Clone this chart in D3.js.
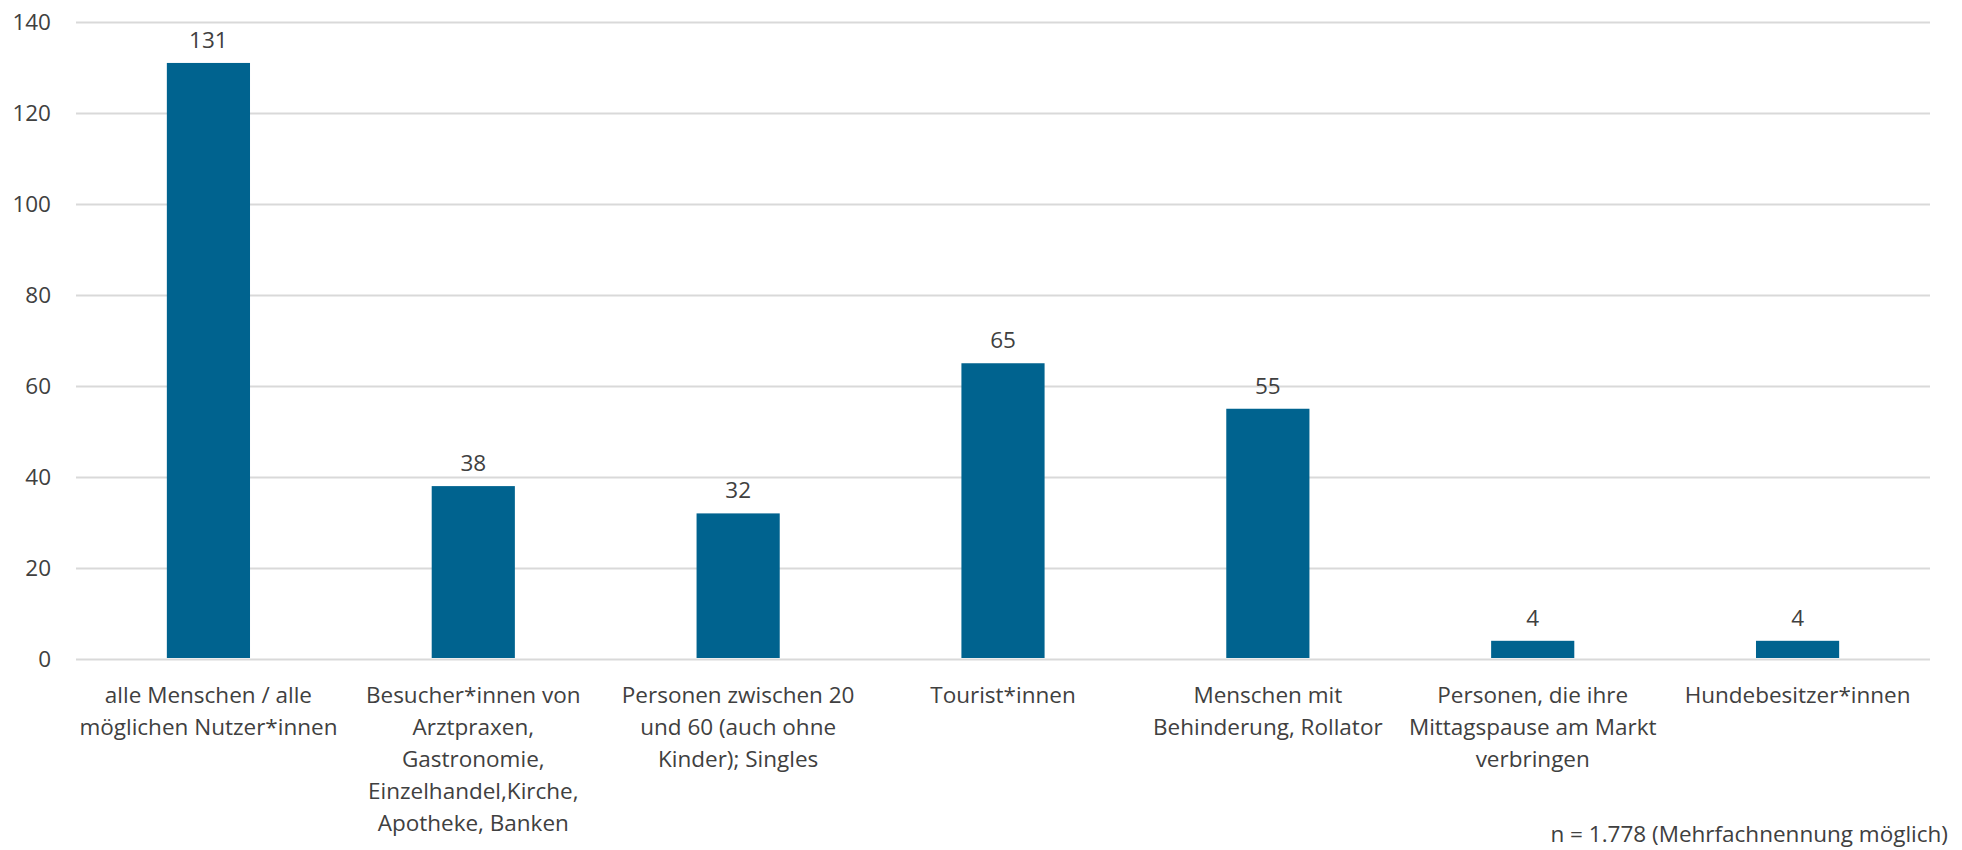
<!DOCTYPE html>
<html>
<head>
<meta charset="utf-8">
<script src="https://cdn.jsdelivr.net/npm/d3@7"></script>
<style>
  html, body { margin: 0; padding: 0; background: #ffffff; }
  svg { display: block; }
  text { font-family: "Open Sans", "Noto Sans", sans-serif; fill: #404040; }
</style>
</head>
<body>
<svg id="chart" width="1962" height="850"></svg>
<script>
const categories = [
  ["alle Menschen / alle", "möglichen Nutzer*innen"],
  ["Besucher*innen von", "Arztpraxen,", "Gastronomie,", "Einzelhandel,Kirche,", "Apotheke, Banken"],
  ["Personen zwischen 20", "und 60 (auch ohne", "Kinder); Singles"],
  ["Tourist*innen"],
  ["Menschen mit", "Behinderung, Rollator"],
  ["Personen, die ihre", "Mittagspause am Markt", "verbringen"],
  ["Hundebesitzer*innen"]
];
const values = [131, 38, 32, 65, 55, 4, 4];
const yTicks = [0, 20, 40, 60, 80, 100, 120, 140];
const footnote = "n = 1.778 (Mehrfachnennung möglich)";

const svg = d3.select("#chart");
const mLeft = 76, mRight = 1930, mTop = 22, mBottom = 659;
const fontSize = 22.5;

const x = d3.scaleBand()
  .domain(d3.range(categories.length))
  .range([mLeft, mRight])
  .paddingInner(0.686)
  .paddingOuter(0.343);

const y = d3.scaleLinear().domain([0, 140]).range([mBottom, mTop]);

// gridlines
const yAxis = d3.axisLeft(y).tickValues(yTicks).tickSize(-(mRight - mLeft)).tickPadding(25);
const gy = svg.append("g").attr("transform", `translate(${mLeft},0)`).call(yAxis);
gy.select(".domain").remove();
gy.selectAll(".tick line").attr("stroke", "#d9d9d9").attr("stroke-width", 2);
gy.selectAll(".tick text")
  .attr("font-size", fontSize)
  .attr("fill", "#404040")
  .style("font-family", '"Open Sans", sans-serif');

// bars
svg.append("g").selectAll("rect")
  .data(values)
  .join("rect")
  .attr("x", (d, i) => x(i))
  .attr("width", x.bandwidth())
  .attr("y", d => y(d))
  .attr("height", d => y(0) - y(d) - 1)
  .attr("fill", "#00638f");

// value labels
svg.append("g").selectAll("text")
  .data(values)
  .join("text")
  .attr("x", (d, i) => x(i) + x.bandwidth() / 2)
  .attr("y", d => y(d) - 15)
  .attr("text-anchor", "middle")
  .attr("font-size", fontSize)
  .text(d => d);

// category labels
const cg = svg.append("g").selectAll("text")
  .data(categories)
  .join("text")
  .attr("text-anchor", "middle")
  .attr("font-size", fontSize);
cg.each(function(lines, i) {
  const t = d3.select(this);
  lines.forEach((ln, j) => {
    t.append("tspan")
      .attr("x", x(i) + x.bandwidth() / 2)
      .attr("y", 703 + j * 32)
      .text(ln);
  });
});

// footnote
svg.append("text")
  .attr("x", 1948)
  .attr("y", 842)
  .attr("text-anchor", "end")
  .attr("font-size", fontSize)
  .text(footnote);
</script>
</body>
</html>
